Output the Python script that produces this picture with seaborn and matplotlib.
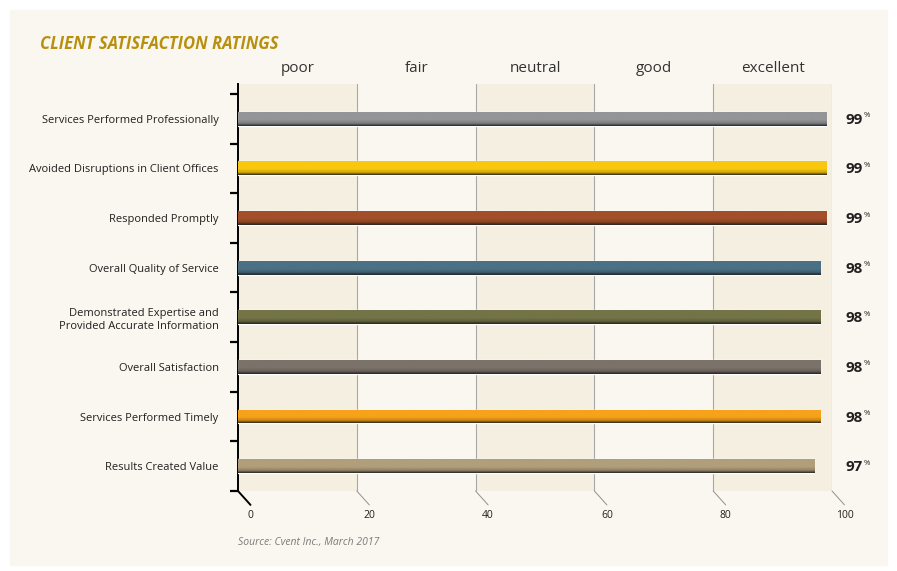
import numpy as np
import pandas as pd
import matplotlib
matplotlib.use("Agg")
import matplotlib.pyplot as plt
import seaborn as sns
from matplotlib.colors import LinearSegmentedColormap, to_rgb

# data
categories = [
    "Services Performed Professionally",
    "Avoided Disruptions in Client Offices",
    "Responded Promptly",
    "Overall Quality of Service",
    "Demonstrated Expertise and\nProvided Accurate Information",
    "Overall Satisfaction",
    "Services Performed Timely",
    "Results Created Value",
]
scores = [99, 99, 99, 98, 98, 98, 98, 97]
colors = ["#939598", "#f9c80e", "#a24f2a", "#4b7186", "#737447",
          "#7b726a", "#f7a21b", "#b19e7b"]
bands = ["poor", "fair", "neutral", "good", "excellent"]
xticks = [0, 20, 40, 60, 80, 100]

bg = "#faf7f0"
band_col = "#f5efe1"

sns.set_style("white")
plt.rcParams["font.family"] = ["Open Sans", "DejaVu Sans"]

fig = plt.figure(figsize=(8.97, 5.71), dpi=100, facecolor="white")
# cream panel
fig.patches.append(plt.Rectangle((10 / 897, 6 / 571), 877 / 897, 555 / 571,
                                 transform=fig.transFigure, color=bg, zorder=-10))
ax = fig.add_axes([238 / 897, 1 - 491 / 571, 594 / 897, 407 / 571])
ax.set_facecolor("none")

df = pd.DataFrame({"category": categories, "score": scores})
sns.barplot(data=df, x="score", y="category", hue="category", palette=colors,
            legend=False, width=0.28, ax=ax, zorder=3, saturation=1)

n = len(categories)

# shaded bands and band dividers
for i in range(5):
    lo, hi = xticks[i], xticks[i + 1]
    if i % 2 == 0:
        ax.axvspan(lo, hi, color=band_col, zorder=0, lw=0)
    ax.axvline(hi, color="#a8a8a8", lw=0.8, zorder=1)
    ax.text((lo + hi) / 2, 1.037, bands[i], transform=ax.get_xaxis_transform(),
            ha="center", va="center", fontsize=11, color="#333333")

# gradient shading on bars (dark lower edge) + value labels
for patch, c in zip(ax.patches, colors):
    x0, y0 = patch.get_x(), patch.get_y()
    w, h = patch.get_width(), patch.get_height()
    rgb = np.array(to_rgb(c))
    cmap = LinearSegmentedColormap.from_list(
        "g", [(0, rgb), (0.55, rgb), (0.82, rgb * 0.82), (0.9, rgb * 0.55),
              (1, (0.15, 0.15, 0.15))])
    grad = np.linspace(0, 1, 64).reshape(-1, 1)
    im = ax.imshow(grad, extent=(x0, x0 + w, y0 + h, y0), aspect="auto",
                   cmap=cmap, zorder=4, origin="upper")
    im.set_clip_path(patch)
    ax.text(1.022, y0 + h / 2 + 0.02, f"{patch.get_width():.0f}",
            transform=ax.get_yaxis_transform(), ha="left", va="center",
            fontsize=11, fontweight="bold", color="#231f20")
    ax.text(1.053, y0 + h / 2 - 0.06, "%", transform=ax.get_yaxis_transform(),
            ha="left", va="center", fontsize=5.5, color="#231f20")
ax.set_ylim(n - 0.5, -0.7)
ax.set_xlim(0, 100)

# axes styling
for s in ["top", "right", "bottom"]:
    ax.spines[s].set_visible(False)
ax.spines["left"].set_color("black")
ax.spines["left"].set_linewidth(1.4)
ax.set_xlabel("")
ax.set_ylabel("")
ax.set_xticks([])
ax.set_yticks(range(n))
ax.set_yticklabels(categories, fontsize=8, color="#231f20", linespacing=1.3)
ax.set_yticks(np.arange(-0.5, n, 1), minor=True)
ax.tick_params(axis="y", which="major", left=False, length=0, pad=14)
ax.tick_params(axis="y", which="minor", left=True, length=6, width=1.6,
               color="black")

# slanted ticks at the bottom
for v in xticks:
    ax.annotate("", xy=(v, 0), xycoords=ax.get_xaxis_transform(),
                xytext=(9, -10), textcoords="offset points",
                arrowprops=dict(arrowstyle="-", lw=1.4 if v == 0 else 0.7,
                                color="black" if v == 0 else "#909090",
                                shrinkA=0, shrinkB=0),
                annotation_clip=False)
    ax.annotate(str(v), xy=(v, 0), xycoords=ax.get_xaxis_transform(),
                xytext=(9, -17.5), textcoords="offset points", ha="center",
                va="center", fontsize=7.5, color="#231f20",
                annotation_clip=False)

fig.text(40 / 897, 1 - 44 / 571, "CLIENT SATISFACTION RATINGS", fontsize=12,
         fontweight="bold", fontstyle="italic", color="#b8900f", va="center")
fig.text(238 / 897, 1 - 543 / 571, "Source: Cvent Inc., March 2017", fontsize=7.5,
         fontstyle="italic", color="#7a7a7a", va="center")

fig.savefig("out.png", dpi=100, facecolor="white")
